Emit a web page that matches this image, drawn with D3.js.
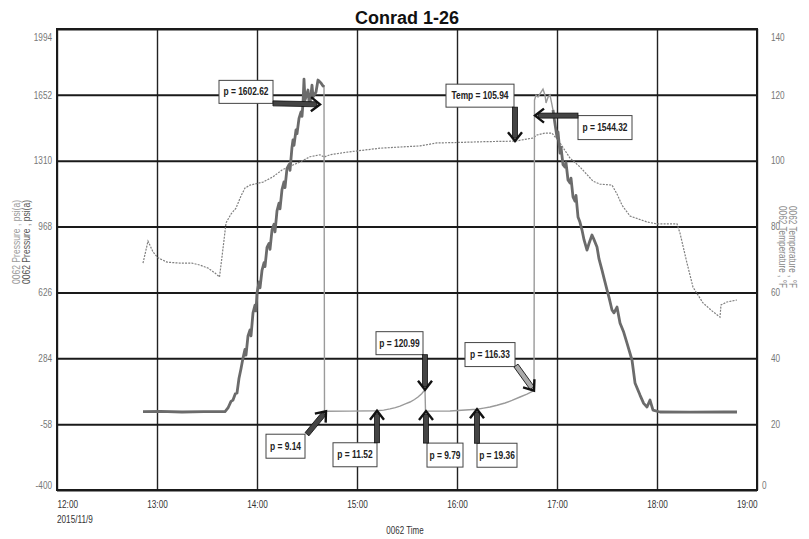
<!DOCTYPE html>
<html>
<head>
<meta charset="utf-8">
<script src="https://cdn.jsdelivr.net/npm/d3@7"></script>
<style>
  body { margin: 0; background: #fff; }
  svg { display: block; }
  .narrow { font-family: 'Liberation Sans', Arial, sans-serif; }
</style>
</head>
<body>
<svg id="chart" width="809" height="539"></svg>
<script>
// ticks
var pressTicks = [-400, -58, 284, 626, 968, 1310, 1652, 1994]
var tempTicks = [0, 20, 40, 60, 80, 100, 120, 140]

// [minutes after 12:00, psi(a)] - main gauge, build-up and draw-down
var pressRise = [[51.6,6.6],[62,8],[75,5],[88,7],[100.8,6.6],[102.6,26],[104.4,60],[105.6,67],[107,100],[108,104],
  [109.2,180],[110.4,230],[111.6,285],[112.8,330],[113.4,300],[114.6,400],[115.8,431],[116.4,400],[117.6,520],
  [118.8,560],[119.4,530],[120,623],[121.2,680],[121.8,650],[123,740],[124.2,780],[124.8,760],[126,860],
  [127.2,880],[127.8,850],[129,950],[130.2,980],[130.8,940],[132,1050],[133.2,1090],[133.8,1060],[135,1160],
  [136.2,1200],[136.8,1170],[138,1270],[139.2,1290],[139.8,1260],[141,1380],[141.6,1418],[142.2,1390],
  [143.4,1470],[144,1450],[145.2,1530],[146.4,1563],[147,1540],[147.6,1610],[148.2,1734],[148.8,1625],
  [150,1660],[150.6,1677],[151.2,1620],[151.8,1604],[153,1703],[153.6,1641],[155.4,1667],[156.6,1729],
  [158.4,1714],[159.6,1698],[160.2,1703]]
var pressFall = [[297.6,1573],[298.8,1500],[300,1433],[300.6,1460],[301.8,1350],[302.4,1380],[303.6,1290],
  [304.8,1277],[305.4,1300],[306.6,1210],[307.8,1194],[308.4,1220],[309.6,1122],[310.8,1100],[311.4,1130],
  [312.6,1018],[313.8,990],[315,950],[316.2,900],[318,846],[319.2,880],[321,924],[322.2,900],[324,862],
  [325.2,800],[327,742],[328.2,700],[330,639],[331.2,600],[333,535],[334.2,520],[336,550],[337.8,467],
  [340,420],[342,363],[345,275],[346.8,156],[349.8,93],[352,50],[354,31],[355.8,67],[357.6,15],[361.8,5],
  [380,4],[400,6],[408,5]]
// second pressure trace (shut-in periods)
var pressShut = [[160.2,1703],[160.5,10],[161.4,9.14],[175.8,9.5],[192,11.52],[196,15],[199.8,21],[203,28],
  [205.8,36],[209,47],[211.8,57],[214.5,70],[216.6,83],[218.8,100],[220.8,120.99],[221.1,9.79],[235.8,9.9],
  [252,19.36],[256,25],[259.8,31],[264,40],[268.8,52],[273,65],[277.8,83],[282,98],[286.2,116.33],
  [286.5,1625],[287.4,1650],[288.6,1641],[291.6,1682],[292.8,1650],[293.4,1610],[294.6,1640],[295.8,1651],
  [297,1600],[297.6,1573]]
// [minutes after 12:00, degF]
var tempSeries = [[51.6,68.9],[54.6,75.6],[57.6,72.3],[60.6,70.5],[66,69.2],[73.8,68.9],[81,68.9],[85.8,68.3],
  [90.6,67.4],[94.8,65.9],[97.5,64.7],[99,70.8],[100.2,75.9],[101.4,81.1],[104.4,83.8],[107.4,85.6],
  [110.4,89.3],[112.8,91.7],[115.8,92.6],[123.6,93.5],[129.6,95.1],[135,97.2],[141.6,98.7],[145.8,99.6],
  [151.8,101.2],[157.8,101.8],[160.2,101.1],[163.8,101.8],[174,102.6],[193.8,103.8],[217.8,104.5],
  [228,105.4],[237.6,105.5],[258,105.8],[274.8,105.94],[285.6,106.9],[288,107.8],[292.8,108.4],[297,108.4],
  [299.4,106.9],[301.8,105.4],[307.8,100.8],[313.8,98.1],[321.6,93.8],[325.8,92.9],[333,92.6],[336,89.9],
  [339,86.5],[343.8,83.2],[354,81.4],[360,80.8],[372,80.8],[373.8,78],[378,68.9],[381.6,61.6],[387.6,56.8],
  [393,54.4],[397.8,52.5],[398.4,56.2],[402,57.1],[408,57.7]]

// annotations: text, minute, value, axis
var notes = [
  ['p = 1602.62', 157.8, 1602.62, 'p'],
  ['Temp = 105.94', 274.8, 105.94, 't'],
  ['p = 1544.32', 286.8, 1544.32, 'p'],
  ['p = 120.99', 220.8, 120.99, 'p'],
  ['p = 116.33', 286.2, 116.33, 'p'],
  ['p = 9.14', 161.4, 9.14, 'p'],
  ['p = 11.52', 192, 11.52, 'p'],
  ['p = 9.79', 221.4, 9.79, 'p'],
  ['p = 19.36', 252, 19.36, 'p']
]
// box offset from arrow tip (bx, by, w, h) and arrow tail offset (ax, ay)
var noteLayout = [
  [-101, -24, 54, 23, -47, -1],
  [-69, -57, 68, 23, 0, -34],
  [43, 0, 54, 24, 43, 0],
  [-49, -58, 47, 23, 0, -35],
  [-69, -48, 50, 24, -18, -25],
  [-60, 23, 39, 24, -19, 23],
  [-44, 32, 44, 24, 0, 32],
  [1, 32, 36, 24, 0, 32],
  [0, 34, 40, 24, 0, 34]
]

var base = new Date(2015, 10, 9, 12, 0)
function toDate(m) { return new Date(base.getTime() + m * 60000) }

// no narrow font installed: squeeze the glyphs instead
function condense(sel, k) {
  sel.each(function () {
    var len = this.getComputedTextLength()
    d3.select(this).attr('textLength', len * k).attr('lengthAdjust', 'spacingAndGlyphs')
  })
}

var svg = d3.select('#chart')
var plotL = 57, plotR = 757, plotT = 29, plotB = 490

var x = d3.scaleTime().domain([toDate(0), toDate(420)]).range([plotL, plotR])
var yP = d3.scaleLinear().domain([-400, 1994]).range([plotB, plotT])
var yT = d3.scaleLinear().domain([0, 140]).range([plotB, plotT])

// grid
svg.append('g')
  .attr('transform', 'translate(0,' + plotB + ')')
  .call(d3.axisBottom(x).ticks(d3.timeHour.every(1)).tickSize(-(plotB - plotT)).tickFormat(''))
  .call(function (g) { g.select('.domain').remove() })
  .selectAll('line').attr('stroke', '#222').attr('stroke-width', 1.4)

svg.append('g')
  .attr('transform', 'translate(' + plotL + ',0)')
  .call(d3.axisLeft(yP).tickValues(pressTicks).tickSize(-(plotR - plotL)).tickFormat(''))
  .call(function (g) { g.select('.domain').remove() })
  .selectAll('line').attr('stroke', '#1a1a1a').attr('stroke-width', 2)

// series
var lineP = d3.line().x(function (d) { return x(toDate(d[0])) }).y(function (d) { return yP(d[1]) })
var lineT = d3.line().x(function (d) { return x(toDate(d[0])) }).y(function (d) { return yT(d[1]) })

svg.append('path').datum(tempSeries).attr('d', lineT)
  .attr('fill', 'none').attr('stroke', '#808080').attr('stroke-width', 1.2).attr('stroke-dasharray', '2,1.2')

svg.append('path').datum(pressShut).attr('d', lineP)
  .attr('fill', 'none').attr('stroke', '#9a9a9a').attr('stroke-width', 1.4)

;[pressRise, pressFall].forEach(function (s) {
  svg.append('path').datum(s).attr('d', lineP)
    .attr('fill', 'none').attr('stroke', '#6b6b6b').attr('stroke-width', 2.8).attr('stroke-linejoin', 'round')
})

// frame
svg.append('rect').attr('x', plotL).attr('y', plotT).attr('width', plotR - plotL).attr('height', plotB - plotT)
  .attr('fill', 'none').attr('stroke', '#1a1a1a').attr('stroke-width', 2)

// left axis labels
var gl = svg.append('g').attr('transform', 'translate(' + plotL + ',0)')
  .call(d3.axisLeft(yP).tickValues(pressTicks).tickSize(0).tickPadding(5).tickFormat(function (d) { return String(d) }))
gl.select('.domain').remove()
gl.selectAll('text').attr('class', 'narrow').attr('font-size', 10).attr('fill', '#777')
  .attr('dy', function (d) { return d === 1994 ? '1.1em' : d === -400 ? '-0.2em' : '0.32em' })
  .call(condense, 0.82)

var gr = svg.append('g').attr('transform', 'translate(' + plotR + ',0)')
  .call(d3.axisRight(yT).tickValues(tempTicks).tickSize(0).tickPadding(14).tickFormat(function (d) { return String(d) }))
gr.select('.domain').remove()
gr.selectAll('text').attr('class', 'narrow').attr('font-size', 10).attr('fill', '#777')
  .attr('x', function (d) { return d === 0 ? 5 : 14 })
  .attr('dy', function (d) { return d === 140 ? '1.1em' : d === 0 ? '-0.2em' : '0.32em' })
  .call(condense, 0.82)

// bottom axis labels
var gb = svg.append('g').attr('transform', 'translate(0,' + plotB + ')')
  .call(d3.axisBottom(x).ticks(d3.timeHour.every(1)).tickSize(0).tickPadding(11).tickFormat(d3.timeFormat('%H:%M')))
gb.select('.domain').remove()
gb.selectAll('text').attr('class', 'narrow').attr('font-size', 10).attr('fill', '#333')
  .attr('text-anchor', function (d, i, n) { return i === 0 ? 'start' : i === n.length - 1 ? 'end' : 'middle' })
  .call(condense, 0.82)

svg.append('text').attr('class', 'narrow').attr('x', plotL).attr('y', 523)
  .attr('font-size', 10).attr('fill', '#333').text(d3.timeFormat('%Y/%-m/%-d')(base))
  .call(condense, 0.82)

svg.append('text').attr('class', 'narrow').attr('x', (plotL + plotR) / 2 - 2).attr('y', 534)
  .attr('text-anchor', 'middle').attr('font-size', 10).attr('fill', '#333').text('0062 Time')
  .call(condense, 0.8)

// axis titles
var midY = 242
;[[16, '#9a9a9a'], [26, '#555']].forEach(function (a) {
  svg.append('text').attr('class', 'narrow').attr('transform', 'translate(' + a[0] + ',' + midY + ') rotate(-90)')
    .attr('text-anchor', 'middle').attr('dy', '0.35em').attr('font-size', 10).attr('fill', a[1])
    .attr('textLength', 84).attr('lengthAdjust', 'spacingAndGlyphs')
    .text('0062 Pressure , psi(a)')
})
;[792, 782].forEach(function (px) {
  svg.append('text').attr('class', 'narrow').attr('transform', 'translate(' + px + ',' + (midY + 5) + ') rotate(90)')
    .attr('text-anchor', 'middle').attr('dy', '0.35em').attr('font-size', 10).attr('fill', '#888')
    .attr('textLength', 82).attr('lengthAdjust', 'spacingAndGlyphs')
    .text('0062 Temperature , \u00b0F')
})

// title
svg.append('text').attr('x', 407).attr('y', 24).attr('text-anchor', 'middle')
  .attr('font-family', 'Liberation Sans, Arial, sans-serif').attr('font-weight', 'bold').attr('font-size', 18)
  .attr('fill', '#111').text('Conrad 1-26')

// annotations
function arrow(x0, y0, x1, y1, light) {
  var dx = x1 - x0, dy = y1 - y0
  var len = Math.sqrt(dx * dx + dy * dy)
  var ang = Math.atan2(dy, dx) * 180 / Math.PI
  var g = svg.append('g').attr('transform', 'translate(' + x0 + ',' + y0 + ') rotate(' + ang + ')')
  g.append('rect').attr('x', 0).attr('y', -2.5).attr('width', len - 3).attr('height', 5)
    .attr('fill', light ? '#aaa' : '#444').attr('stroke', '#111').attr('stroke-width', 0.8)
  g.append('path').attr('d', 'M' + (len - 9) + ',-7L' + len + ',0L' + (len - 9) + ',7')
    .attr('fill', 'none').attr('stroke', '#111').attr('stroke-width', 2.4)
}

notes.forEach(function (n, i) {
  var L = noteLayout[i]
  var tx = x(toDate(n[1]))
  var ty = n[3] === 't' ? yT(n[2]) : yP(n[2])
  svg.append('rect').attr('x', tx + L[0]).attr('y', ty + L[1]).attr('width', L[2]).attr('height', L[3])
    .attr('fill', '#fff').attr('stroke', '#444').attr('stroke-width', 1)
  svg.append('text').attr('class', 'narrow').attr('x', tx + L[0] + L[2] / 2).attr('y', ty + L[1] + L[3] / 2)
    .attr('dy', '0.36em').attr('text-anchor', 'middle').attr('font-size', 10).attr('font-weight', 'bold')
    .attr('fill', '#222').text(n[0])
    .call(condense, 0.84)
  arrow(tx + L[4], ty + L[5], tx, ty, i === 4)
})
</script>
</body>
</html>
